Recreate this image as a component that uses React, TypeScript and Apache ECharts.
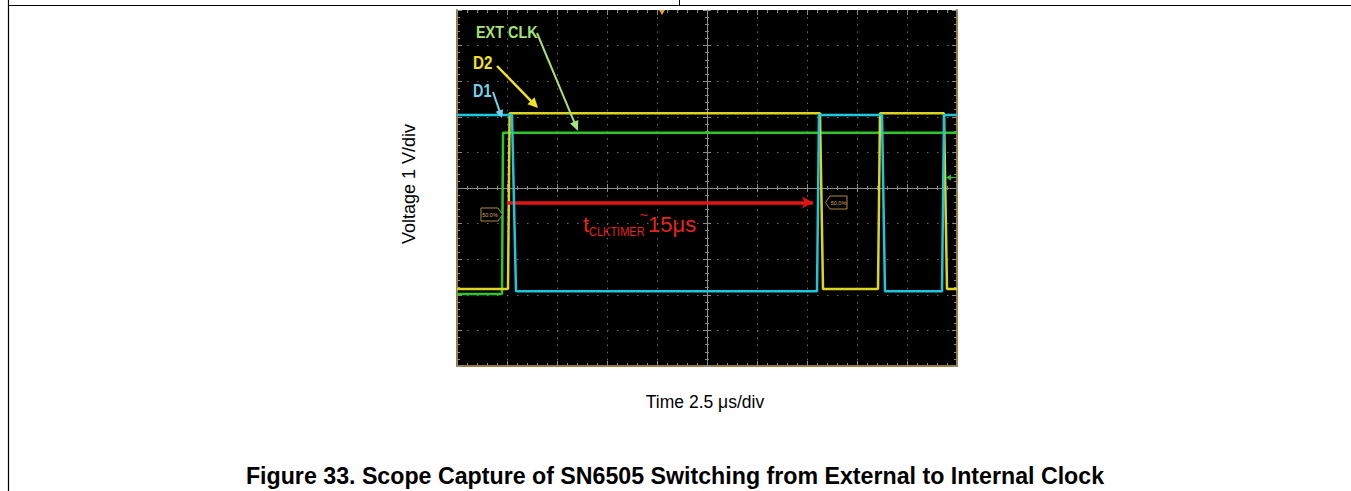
import React, { useEffect, useRef } from "react";
import * as echarts from "echarts";

// Time in µs relative to screen centre (2.5 µs/div), voltage in V (1 V/div)
const d1Time = [-12.5, -9.75, -9.55, 5.5, 5.6, 8.75, 8.9, 11.75, 11.85, 12.5];
const d1Volt = [2.05, 2.05, -2.9, -2.9, 2.05, 2.05, -2.9, -2.9, 2.05, 2.05];
const d2Time = [-12.5, -9.95, -9.87, 5.65, 5.8, 8.55, 8.65, 11.85, 12.0, 12.5];
const d2Volt = [-2.84, -2.84, 2.1, 2.1, -2.84, -2.84, 2.1, 2.1, -2.84, -2.84];
const clkTime = [-12.5, -10.25, -10.2, 12.5];
const clkVolt = [-2.98, -2.98, 1.55, 1.55];
const timerArrowTime = [-10, 5.3];
const timerArrowVolt = -0.41;

const xMin = -12.5;
const xMax = 12.5;
const xStep = 2.5;
const yMin = -5;
const yMax = 5;
const yStep = 1;

const pairs = (t: number[], v: number[]) => t.map((x, i) => [x, v[i]]);

const GRID = { left: 457, top: 10, width: 500, height: 356 };
const NARROW = "'Liberation Sans Narrow', 'Arial Narrow', 'Liberation Sans', sans-serif";
const SANS = "'Liberation Sans', Arial, sans-serif";

function arrow(x1: number, y1: number, x2: number, y2: number, color: string, w: number, head = 10, half = 5) {
  const dx = x2 - x1;
  const dy = y2 - y1;
  const L = Math.hypot(dx, dy);
  const ux = dx / L;
  const uy = dy / L;
  const bx = x2 - ux * head;
  const by = y2 - uy * head;
  return [
    { type: "line", z: 100, shape: { x1, y1, x2: bx + ux * 2, y2: by + uy * 2 }, style: { stroke: color, lineWidth: w } },
    {
      type: "polygon",
      z: 100,
      shape: { points: [[x2, y2], [bx - uy * half, by + ux * half], [bx + uy * half, by - ux * half]] },
      style: { fill: color },
    },
  ];
}

function text(x: number, y: number, t: string, font: any, extra: any = {}) {
  return {
    type: "text",
    z: 100,
    x,
    y,
    ...extra,
    style: { text: t, align: "left", verticalAlign: "middle", ...font },
  };
}

export default function App() {
  const ref = useRef<HTMLDivElement>(null);

  useEffect(() => {
    if (!ref.current) return;
    const chart = echarts.init(ref.current, undefined, { renderer: "svg" });

    const tickGray = "#8a8a8a";
    const brown = "#9c7b3e";
    const xBase: any = {
      type: "value",
      min: xMin,
      max: xMax,
      interval: xStep,
      axisLabel: { show: false },
      splitLine: { show: false },
    };
    const yBase: any = {
      type: "value",
      min: yMin,
      max: yMax,
      interval: yStep,
      axisLabel: { show: false },
      splitLine: { show: false },
    };
    const ticks = (inside: boolean, len: number, color = tickGray) => ({
      axisTick: { show: true, inside, length: len, lineStyle: { color, width: 1 } },
      minorTick: { show: true, splitNumber: 5, length: Math.max(2, len - 2), lineStyle: { color, width: 1 } },
    });

    const option: any = {
      animation: false,
      backgroundColor: "#ffffff",
      grid: { ...GRID, show: true, backgroundColor: "#000000", borderWidth: 0 },
      xAxis: [
        {
          ...xBase,
          position: "bottom",
          axisLine: { show: true, onZero: false, lineStyle: { color: brown, width: 2 } },
          ...ticks(true, 5),
          splitLine: { show: true, lineStyle: { color: "#6e6e6e", width: 1, type: [1.5, 5.62] } },
        },
        { ...xBase, position: "top", axisLine: { show: false, onZero: false }, ...ticks(true, 5) },
        {
          ...xBase,
          position: "bottom",
          offset: -178,
          axisLine: { show: true, onZero: false, lineStyle: { color: "#8d8d8d", width: 1 } },
          ...ticks(false, 4),
        },
        { ...xBase, position: "bottom", offset: -178, axisLine: { show: false, onZero: false }, ...ticks(true, 4) },
      ],
      yAxis: [
        {
          ...yBase,
          position: "left",
          axisLine: { show: true, onZero: false, lineStyle: { color: brown, width: 2 } },
          ...ticks(true, 5),
          splitLine: { show: true, lineStyle: { color: "#6e6e6e", width: 1, type: [1.5, 8.5] } },
        },
        {
          ...yBase,
          position: "right",
          axisLine: { show: true, onZero: false, lineStyle: { color: brown, width: 2 } },
          ...ticks(true, 5),
        },
        {
          ...yBase,
          position: "left",
          offset: -250,
          axisLine: { show: true, onZero: false, lineStyle: { color: "#8d8d8d", width: 1 } },
          ...ticks(false, 4),
        },
        { ...yBase, position: "left", offset: -250, axisLine: { show: false, onZero: false }, ...ticks(true, 4) },
      ],
      series: [
        {
          name: "EXT CLK",
          type: "line",
          xAxisIndex: 0,
          yAxisIndex: 0,
          data: pairs(clkTime, clkVolt),
          showSymbol: false,
          symbol: "none",
          lineStyle: { color: "#2cc62c", width: 2.5 },
          z: 3,
        },
        {
          name: "D2",
          type: "line",
          xAxisIndex: 0,
          yAxisIndex: 0,
          data: pairs(d2Time, d2Volt),
          showSymbol: false,
          symbol: "none",
          lineStyle: { color: "#dcd420", width: 2.5 },
          z: 4,
        },
        {
          name: "D1",
          type: "line",
          xAxisIndex: 0,
          yAxisIndex: 0,
          data: pairs(d1Time, d1Volt),
          showSymbol: false,
          symbol: "none",
          lineStyle: { color: "#1ec6dc", width: 2.5 },
          z: 5,
          markLine: {
            silent: true,
            symbol: ["none", "arrow"],
            symbolSize: [9, 11],
            label: { show: false },
            lineStyle: { color: "#e41414", width: 3.5, type: "solid" },
            data: [[{ coord: [timerArrowTime[0], timerArrowVolt] }, { coord: [timerArrowTime[1], timerArrowVolt] }]],
          },
        },
      ],
      graphic: [
        // page frame lines
        { type: "line", z: 100, shape: { x1: 8, y1: 5.5, x2: 1351, y2: 5.5 }, style: { stroke: "#000", lineWidth: 1.2 } },
        { type: "line", z: 100, shape: { x1: 8.5, y1: 0, x2: 8.5, y2: 491 }, style: { stroke: "#000", lineWidth: 1.2 } },
        { type: "line", z: 100, shape: { x1: 679.5, y1: 0, x2: 679.5, y2: 5 }, style: { stroke: "#000", lineWidth: 1 } },
        // trigger position marker
        { type: "polygon", z: 100, shape: { points: [[659, 10], [665, 10], [662, 15]] }, style: { fill: "#f0a020" } },
        // green level marker at right edge
        { type: "polygon", z: 100, shape: { points: [[946, 177.5], [951, 174.5], [951, 180.5]] }, style: { fill: "#2cc62c" } },
        { type: "line", z: 100, shape: { x1: 950, y1: 177.5, x2: 956, y2: 177.5 }, style: { stroke: "#2cc62c", lineWidth: 1 } },
        // 50% markers
        {
          type: "polygon",
          z: 100,
          shape: { points: [[481, 208], [498, 208], [502.5, 214.5], [498, 221], [481, 221]] },
          style: { fill: "#000", stroke: "#b08a3a", lineWidth: 1 },
        },
        text(490, 214.5, "50.0%", { fontSize: 5.5, fontFamily: SANS, fill: "#d0a858", align: "center" }),
        {
          type: "polygon",
          z: 100,
          shape: { points: [[825.5, 202.5], [830, 196], [847, 196], [847, 209], [830, 209]] },
          style: { fill: "#000", stroke: "#b08a3a", lineWidth: 1 },
        },
        text(838.5, 202.5, "50.0%", { fontSize: 5.5, fontFamily: SANS, fill: "#d0a858", align: "center" }),
        // annotation labels
        text(476, 32, "EXT CLK", { fontSize: 16, fontWeight: "bold", fontFamily: NARROW, fill: "#a4e27a" }, { scaleX: 0.9 }),
        text(473, 62.5, "D2", { fontSize: 19, fontWeight: "bold", fontFamily: NARROW, fill: "#f2e224" }, { scaleX: 0.8 }),
        text(473, 90, "D1", { fontSize: 18, fontWeight: "bold", fontFamily: NARROW, fill: "#74d2ec" }, { scaleX: 0.8 }),
        ...arrow(537, 33, 578, 131, "#a4e27a", 2, 10, 4.5),
        ...arrow(497, 66, 538, 108, "#f2e224", 2.5, 10, 5),
        ...arrow(493, 92, 502, 118, "#74d2ec", 2, 8, 4),
        // timer annotation
        text(583, 224.5, "t", { fontSize: 22, fontFamily: SANS, fill: "#e52420" }),
        text(589, 231.5, "CLKTIMER", { fontSize: 12.5, fontFamily: NARROW, fill: "#e52420" }, { scaleX: 0.88 }),
        text(639.5, 214, "~", { fontSize: 15, fontFamily: SANS, fill: "#e52420" }),
        text(648, 224.5, "15μs", { fontSize: 22, fontFamily: SANS, fill: "#e52420" }),
        // axis titles and caption
        text(409, 184, "Voltage 1 V/div", { fontSize: 18, fontFamily: SANS, fill: "#000", align: "center" }, { rotation: Math.PI / 2 }),
        text(705, 402, "Time 2.5 μs/div", { fontSize: 17.5, fontFamily: SANS, fill: "#000", align: "center" }),
        text(
          675,
          476,
          "Figure 33. Scope Capture of SN6505 Switching from External to Internal Clock",
          { fontSize: 23.2, fontWeight: "bold", fontFamily: SANS, fill: "#000", align: "center" }
        ),
      ],
    };

    chart.setOption(option);
    return () => chart.dispose();
  }, []);

  return (
    <div
      ref={ref}
      style={{ position: "fixed", left: 0, top: 0, width: 1351, height: 491, background: "#fff" }}
    />
  );
}
